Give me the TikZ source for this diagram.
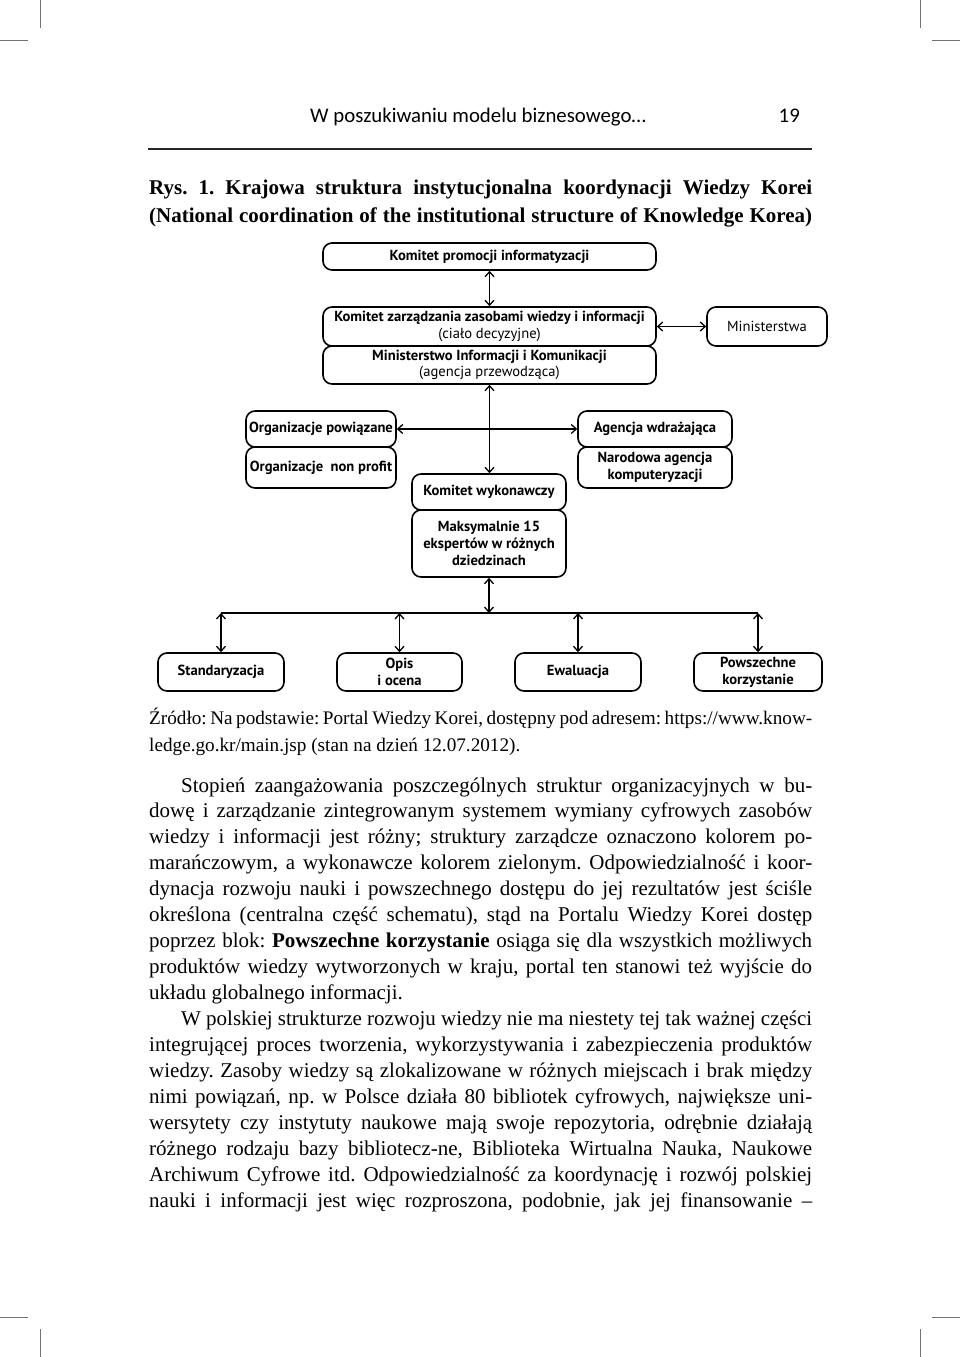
\documentclass[tikz,border=0pt]{standalone}
\usepackage{fontspec}
\setmainfont{Liberation Serif}
\newfontfamily\hdrfont{Carlito}
\newfontfamily\dgfont{PT Sans}
\usetikzlibrary{arrows.meta}
\frenchspacing
\tikzset{
  box/.style={draw, line width=1.6pt, rounded corners=9pt, inner sep=0pt, align=center,
    font=\dgfont\fontsize{14.6}{16.8}\selectfont},
  conn/.style={line width=1.3pt, {Straight Barb[length=5pt,width=9pt]}-{Straight Barb[length=5pt,width=9pt]}},
  plain/.style={line width=1.3pt},
  txt/.style={anchor=base west, inner sep=0pt, font=\fontsize{21}{26}\selectfont},
  src/.style={anchor=base west, inner sep=0pt, font=\fontsize{19.2}{26}\selectfont},
  ttl/.style={anchor=base west, inner sep=0pt, font=\bfseries\fontsize{21}{28}\selectfont},
  crop/.style={line width=0.8pt, black!55}
}
\newcommand{\J}[1]{\makebox[663pt][s]{#1}}
\newcommand{\JI}[1]{\makebox[631pt][s]{#1}}
\begin{document}
\begin{tikzpicture}[x=1pt,y=-1pt]
\useasboundingbox (0,0) rectangle (960,1357);
% crop marks
\draw[crop] (40,0) -- (40,28);
\draw[crop] (0,40) -- (28,40);
\draw[crop] (920,0) -- (920,28);
\draw[crop] (932,40) -- (960,40);
\draw[crop] (0,1317) -- (28,1317);
\draw[crop] (40,1329) -- (40,1357);
\draw[crop] (932,1317) -- (960,1317);
\draw[crop] (920,1329) -- (920,1357);
% running head
\node[anchor=base west, inner sep=0pt, font=\hdrfont\fontsize{20.8}{24}\selectfont] (hdr) at (310,122) {W poszukiwaniu modelu biznesowego…};
\node[anchor=base east, inner sep=0pt, font=\hdrfont\fontsize{20.8}{24}\selectfont] (pg) at (800,122) {19};
\draw[line width=2.5pt, black!85] (148,149) -- (812,149);
% title
\node[ttl] (t1) at (149,194) {\J{Rys. 1. Krajowa struktura instytucjonalna koordynacji Wiedzy Korei}};
\node[ttl] (t2) at (149,222) {\J{(National coordination of the institutional structure of Knowledge Korea)}};
% diagram
\node[box, minimum width=333pt, minimum height=27pt] (kpi) at (489.5,256.5) {\textbf{Komitet promocji informatyzacji}};
\node[box, minimum width=333pt, minimum height=39pt] (kzz) at (489.5,326.5) {\textbf{Komitet zarządzania zasobami wiedzy i informacji}\\(ciało decyzyjne)};
\node[box, minimum width=333pt, minimum height=38pt] (mik) at (489.5,365) {\textbf{Ministerstwo Informacji i Komunikacji}\\(agencja przewodząca)};
\node[box, minimum width=120pt, minimum height=39pt] (min) at (767,326.5) {Ministerstwa};
\node[box, minimum width=150pt, minimum height=36pt] (op) at (321,429) {\textbf{Organizacje powiązane}};
\node[box, minimum width=150pt, minimum height=41pt] (onp) at (321,467.5) {\textbf{Organizacje~ non profit}};
\node[box, minimum width=154pt, minimum height=36pt] (aw) at (655,429) {\textbf{Agencja wdrażająca}};
\node[box, minimum width=154pt, minimum height=41pt] (nak) at (655,467.5) {\textbf{Narodowa agencja}\\\textbf{komputeryzacji}};
\node[box, minimum width=154pt, minimum height=36pt] (kw) at (489,492) {\textbf{Komitet wykonawczy}};
\node[box, minimum width=154pt, minimum height=67pt] (maks) at (489,543.5) {\textbf{Maksymalnie 15}\\\textbf{ekspertów w różnych}\\\textbf{dziedzinach}};
\node[box, minimum width=126pt, minimum height=38pt] (std) at (221,672) {\textbf{Standaryzacja}};
\node[box, minimum width=125pt, minimum height=38pt] (opis) at (399.5,672) {\textbf{Opis}\\\textbf{i ocena}};
\node[box, minimum width=126pt, minimum height=38pt] (ewal) at (578,672) {\textbf{Ewaluacja}};
\node[box, minimum width=128pt, minimum height=38pt] (pow) at (758,672) {\textbf{Powszechne}\\\textbf{korzystanie}};
\coordinate (bar) at (488,613);
\draw[conn] (kpi.south) -- (kzz.north);
\draw[conn] (kzz.east) -- (min.west);
\draw[conn] (mik.south) -- (mik.south |- kw.north);
\draw[conn] (op.east) -- (aw.west);
\draw[conn] (maks.south) -- (maks.south |- bar);
\draw[plain] (std.north |- bar) -- (pow.north |- bar);
\foreach \n in {std,opis,ewal,pow} \draw[conn] (\n.north |- bar) -- (\n.north);
% source
\node[src] (s1) at (149,724) {\J{Źródło: Na podstawie: Portal Wiedzy Korei, dostępny pod adresem: https://www.know-}};
\node[src] (s2) at (149,751) {ledge.go.kr/main.jsp (stan na dzień 12.07.2012).};
% body
\node[txt] (p1) at (181,792) {\JI{Stopień zaangażowania poszczególnych struktur organizacyjnych w bu-}};
\node[txt] (p2) at (149,817.9) {\J{dowę i zarządzanie zintegrowanym systemem wymiany cyfrowych zasobów}};
\node[txt] (p3) at (149,843.9) {\J{wiedzy i informacji jest różny; struktury zarządcze oznaczono kolorem po-}};
\node[txt] (p4) at (149,869.8) {\J{marańczowym, a wykonawcze kolorem zielonym. Odpowiedzialność i koor-}};
\node[txt] (p5) at (149,895.8) {\J{dynacja rozwoju nauki i powszechnego dostępu do jej rezultatów jest ściśle}};
\node[txt] (p6) at (149,921.7) {\J{określona (centralna część schematu), stąd na Portalu Wiedzy Korei dostęp}};
\node[txt] (p7) at (149,947.6) {\J{poprzez blok: \textbf{Powszechne korzystanie} osiąga się dla wszystkich możliwych}};
\node[txt] (p8) at (149,973.6) {\J{produktów wiedzy wytworzonych w kraju, portal ten stanowi też wyjście do}};
\node[txt] (p9) at (149,999.5) {układu globalnego informacji.};
\node[txt] (q1) at (181,1025.5) {\JI{W polskiej strukturze rozwoju wiedzy nie ma niestety tej tak ważnej części}};
\node[txt] (q2) at (149,1051.4) {\J{integrującej proces tworzenia, wykorzystywania i zabezpieczenia produktów}};
\node[txt] (q3) at (149,1077.3) {\J{wiedzy. Zasoby wiedzy są zlokalizowane w różnych miejscach i brak między}};
\node[txt] (q4) at (149,1103.3) {\J{nimi powiązań, np. w Polsce działa 80 bibliotek cyfrowych, największe uni-}};
\node[txt] (q5) at (149,1129.2) {\J{wersytety czy instytuty naukowe mają swoje repozytoria, odrębnie działają}};
\node[txt] (q6) at (149,1155.2) {\J{różnego rodzaju bazy bibliotecz-ne, Biblioteka Wirtualna Nauka, Naukowe}};
\node[txt] (q7) at (149,1181.1) {\J{Archiwum Cyfrowe itd. Odpowiedzialność za koordynację i rozwój polskiej}};
\node[txt] (q8) at (149,1207) {\J{nauki i informacji jest więc rozproszona, podobnie, jak jej finansowanie –}};
\end{tikzpicture}
\end{document}
